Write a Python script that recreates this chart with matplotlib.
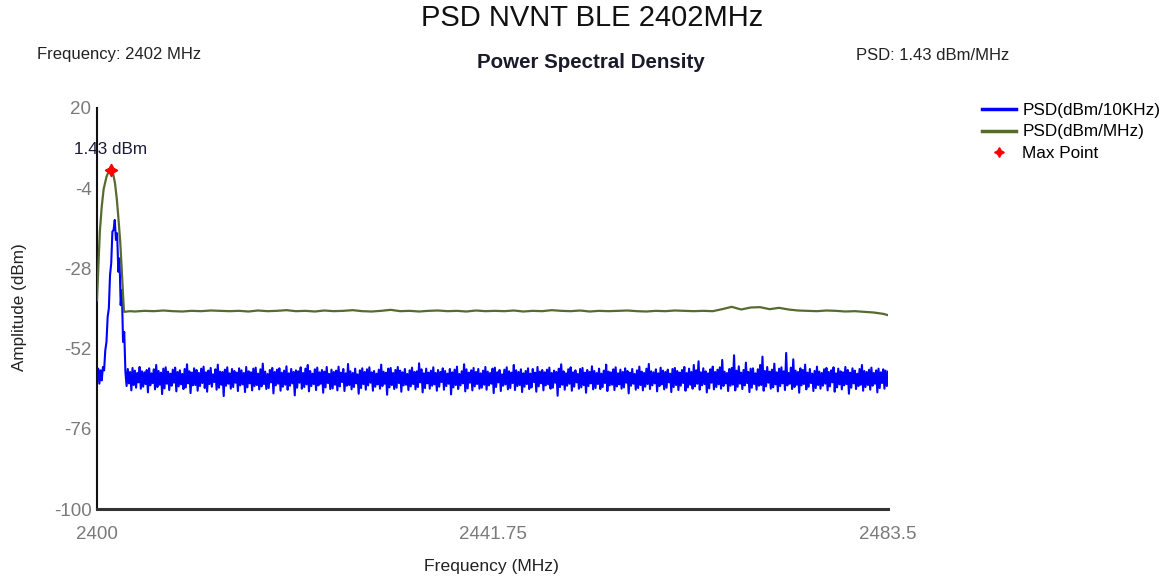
import numpy as np
import matplotlib
matplotlib.use("Agg")
import matplotlib.pyplot as plt
from matplotlib.lines import Line2D

# ---------------- data ----------------
x_ticks = [2400, 2441.75, 2483.5]
x_tick_labels = ["2400", "2441.75", "2483.5"]
y_ticks = [20, -4, -28, -52, -76, -100]
y_tick_labels = ["20", "-4", "-28", "-52", "-76", "-100"]

# PSD (dBm/10KHz) trace, one reading every 0.125 MHz from 2400 MHz
blue_start = 2400.0
blue_step = 0.125
psd_10khz_peak = [
    -61.0, -58.0, -62.5, -58.5, -61.5, -57.5, -58.5, -52.5,
    -50.0, -42.5, -40.0, -30.0, -26.5, -17.0, -16.5, -13.5,
    -19.5, -17.5, -29.0, -25.0, -39.0, -34.5, -50.0, -47.0, -59.0,
]
psd_10khz_floor = [
    -63.2, -58.1, -62.4, -59.0, -64.5, -57.8, -62.9, -58.6, -63.7, -59.3, -62.1, -57.5, -64.0, -58.8, -63.4, -59.1,
    -62.6, -58.4, -65.1, -57.9, -63.0, -59.4, -62.3, -58.2, -64.2, -56.9, -63.5, -58.7, -62.8, -59.2, -65.6, -58.0,
    -63.9, -57.6, -62.5, -58.9, -64.4, -59.5, -63.1, -58.3, -62.2, -57.7, -64.8, -59.0, -63.3, -58.5, -62.7, -59.6,
    -64.1, -58.1, -63.6, -56.7, -62.4, -58.8, -65.3, -59.2, -63.0, -57.9, -62.9, -58.4, -64.6, -59.3, -63.2, -58.0,
    -62.3, -57.4, -63.8, -59.1, -64.9, -58.6, -62.6, -57.8, -63.4, -59.7, -62.0, -58.2, -64.3, -56.8, -63.7, -58.9,
    -62.8, -59.0, -66.2, -58.3, -63.1, -57.6, -62.5, -59.4, -64.0, -58.1, -63.5, -58.7, -62.2, -59.2, -64.7, -57.9,
    -63.0, -58.5, -62.7, -59.3, -65.0, -57.5, -63.6, -58.8, -62.4, -59.1, -64.5, -58.0, -63.2, -57.7, -62.9, -59.5,
    -64.2, -58.2, -63.3, -56.5, -62.6, -58.9, -64.1, -59.6, -63.8, -58.4, -62.1, -57.8, -65.4, -59.0, -63.0, -58.3,
    -62.5, -57.9, -64.6, -59.2, -63.4, -58.6, -62.8, -57.3, -64.3, -59.4, -63.1, -58.1, -62.4, -59.0, -66.0, -58.5,
    -63.7, -58.8, -62.2, -57.6, -64.0, -59.3, -63.5, -58.0, -62.7, -56.9, -64.8, -58.7, -63.2, -59.5, -62.6, -58.2,
    -64.4, -57.7, -63.0, -59.1, -62.5, -58.4, -65.2, -58.9, -63.6, -57.5, -62.3, -59.6, -64.1, -58.3, -63.9, -59.0,
    -62.8, -58.6, -64.5, -57.4, -63.3, -59.2, -62.0, -58.1, -64.7, -59.4, -63.1, -56.6, -62.9, -58.8, -64.2, -59.3,
    -63.5, -58.0, -62.4, -59.7, -65.5, -58.5, -63.8, -57.9, -62.6, -59.0, -64.3, -58.2, -63.0, -57.6, -62.2, -59.1,
    -64.6, -58.7, -63.4, -59.5, -62.7, -58.3, -64.0, -56.8, -63.2, -58.9, -62.5, -59.2, -65.8, -58.0, -63.6, -57.8,
    -62.9, -59.3, -64.1, -58.4, -63.7, -57.5, -62.3, -58.6, -64.9, -59.1, -63.0, -58.1, -62.8, -59.6, -64.4, -58.5,
    -63.3, -57.7, -62.6, -59.0, -64.2, -58.8, -63.5, -56.4, -62.1, -58.2, -65.1, -59.4, -63.8, -58.0, -62.4, -59.2,
    -64.0, -58.6, -63.1, -57.6, -62.7, -59.3, -64.6, -58.4, -63.4, -59.0, -62.0, -57.9, -64.3, -58.7, -63.2, -59.5,
    -62.5, -58.1, -65.7, -59.1, -63.6, -58.3, -62.9, -57.4, -64.1, -59.6, -63.0, -58.8, -62.4, -56.7, -64.8, -58.2,
    -63.9, -59.2, -62.2, -58.5, -64.5, -57.8, -63.3, -59.0, -62.6, -58.1, -64.0, -59.4, -63.7, -58.6, -62.8, -57.5,
    -64.3, -58.9, -63.0, -59.3, -62.5, -58.0, -65.3, -57.7, -63.5, -59.1, -62.1, -58.4, -64.7, -59.7, -63.1, -58.3,
    -62.7, -57.6, -64.2, -58.8, -63.8, -59.2, -62.3, -56.9, -64.4, -58.5, -63.2, -59.0, -62.9, -58.2, -65.0, -59.4,
    -63.4, -58.7, -62.6, -57.9, -64.1, -59.5, -63.6, -58.1, -62.0, -59.2, -64.9, -57.5, -63.3, -58.9, -62.4, -58.4,
    -64.5, -59.1, -63.0, -58.3, -62.7, -57.7, -64.0, -59.3, -63.7, -58.6, -62.2, -59.0, -66.1, -58.0, -63.5, -56.7,
    -62.8, -58.8, -64.3, -59.4, -63.1, -58.2, -62.5, -57.6, -64.6, -59.1, -63.4, -58.5, -62.1, -59.6, -64.0, -58.1,
    -63.6, -57.8, -62.9, -59.2, -65.2, -58.4, -63.2, -59.0, -62.4, -57.3, -64.2, -58.7, -63.8, -59.3, -62.6, -58.0,
    -64.1, -59.5, -63.5, -58.6, -62.3, -56.8, -64.7, -58.9, -63.0, -59.1, -62.8, -58.2, -64.4, -57.6, -63.3, -59.4,
    -62.7, -58.3, -64.0, -59.0, -63.6, -57.9, -62.2, -58.7, -65.4, -59.2, -63.1, -58.1, -62.5, -59.6, -64.3, -58.5,
    -63.8, -57.4, -62.9, -58.9, -64.5, -59.3, -63.4, -58.0, -62.6, -56.6, -64.1, -58.8, -63.0, -59.1, -62.4, -58.2,
    -64.8, -59.4, -63.2, -57.7, -62.7, -58.6, -64.2, -59.0, -63.7, -58.3, -62.1, -59.5, -65.0, -58.1, -63.5, -57.8,
    -62.9, -58.7, -64.4, -59.2, -63.1, -58.4, -62.3, -57.5, -64.6, -59.3, -63.6, -58.0, -62.8, -59.0, -64.0, -56.9,
    -63.3, -58.5, -62.5, -55.8, -64.3, -59.1, -63.0, -57.9, -62.6, -58.8, -65.1, -59.4, -63.9, -58.2, -62.2, -57.4,
    -64.2, -59.0, -63.5, -58.3, -62.7, -57.6, -64.0, -55.4, -63.2, -58.9, -62.4, -59.3, -64.7, -58.1, -63.1, -57.8,
    -62.8, -54.0, -64.5, -58.6, -63.4, -57.3, -62.5, -59.2, -64.1, -58.4, -63.0, -56.2, -62.3, -59.0, -65.0, -58.0,
    -63.7, -57.9, -62.6, -59.4, -64.3, -58.2, -63.1, -56.9, -62.9, -54.4, -64.6, -58.7, -63.3, -57.5, -62.2, -58.9,
    -64.0, -58.3, -63.6, -56.5, -62.7, -59.1, -64.8, -58.0, -63.2, -57.6, -62.4, -58.8, -64.4, -53.3, -63.0, -59.3,
    -62.5, -57.7, -64.1, -55.2, -63.5, -58.6, -62.8, -59.0, -65.2, -57.9, -63.0, -58.4, -62.6, -56.8, -64.2, -59.2,
    -63.4, -58.1, -62.3, -59.5, -64.7, -58.7, -63.8, -57.4, -62.9, -58.9, -64.0, -59.3, -63.1, -58.2, -62.5, -57.8,
    -64.5, -59.0, -63.3, -58.5, -62.1, -57.6, -64.9, -59.4, -63.6, -58.0, -62.7, -58.8, -64.2, -59.1, -63.0, -57.5,
    -62.6, -58.4, -65.5, -59.2, -63.7, -57.9, -62.4, -58.6, -64.1, -59.5, -63.2, -58.1, -62.8, -56.9, -64.6, -58.7,
    -63.5, -59.0, -62.9, -58.3, -64.3, -57.7, -63.1, -59.3, -62.5, -58.5, -65.1, -58.0, -63.8, -59.1, -62.3, -58.2,
    -64.0, -58.6, -63.2, -58.9,
]

# PSD (dBm/MHz) trace
green_peak_freq = [2400.0, 2400.15, 2400.3, 2400.5, 2400.7, 2401.0, 2401.2, 2401.44,
                   2401.7, 2401.9, 2402.1, 2402.25, 2402.45, 2402.6, 2402.75, 2402.85]
green_peak_vals = [-37.5, -27.0, -17.0, -9.5, -4.3, -0.6, 0.8, 1.43,
                   0.3, -2.5, -7.5, -12.6, -20.0, -27.6, -36.0, -41.0]
green_base_freq = [2403.5] + list(range(2404, 2484)) + [2483.5]
green_base_vals = [
    -40.8,
    -40.9, -40.7, -40.8, -40.6, -40.8, -40.9, -40.7, -40.8, -40.6, -40.7,
    -40.8, -40.7, -40.9, -40.6, -40.8, -40.7, -40.5, -40.8, -40.7, -40.9,
    -40.6, -40.8, -40.7, -40.5, -40.8, -40.9, -40.7, -40.4, -40.8, -40.7,
    -40.9, -40.7, -40.6, -40.8, -40.7, -40.9, -40.6, -40.8, -40.7, -40.8,
    -40.6, -40.9, -40.7, -40.8, -40.5, -40.7, -40.8, -40.6, -40.9, -40.7,
    -40.8, -40.7, -40.6, -40.8, -40.9, -40.7, -40.8, -40.6, -40.7, -40.8,
    -40.7, -40.8, -40.2, -39.5, -40.3, -39.7, -39.6, -40.2, -39.8, -40.3,
    -40.6, -40.7, -40.8, -40.6, -40.7, -40.9, -40.8, -41.0, -41.2, -41.6,
    -42.0,
]

max_freq = 2401.44
max_val = 1.43

FONT = "Liberation Sans"

psd_10khz = psd_10khz_peak + psd_10khz_floor
blue_freq = blue_start + blue_step * np.arange(len(psd_10khz))
green_freq = green_peak_freq + green_base_freq
green_vals = green_peak_vals + green_base_vals

fig = plt.figure(figsize=(11.69, 5.78), dpi=100)
ax = fig.add_axes([97 / 1169, 1 - 509 / 578, (888 - 97) / 1169, (509 - 108) / 578])

ax.plot(blue_freq, psd_10khz, color="#0000ff", lw=1.5, zorder=2)
ax.plot(green_freq, green_vals, color="#556b2f", lw=1.6, zorder=3)
ax.plot([max_freq], [max_val], marker=(4, 1, 0), color="#ff0000", ms=9, ls="none", zorder=4)
ax.annotate("1.43 dBm", (max_freq, max_val), xytext=(0, 15), textcoords="offset points",
            ha="center", va="center", fontsize=12.3, family=FONT, color="#1a1a3a")

ax.set_xlim(2400, 2483.5)
ax.set_ylim(-100, 20)
ax.set_xticks(x_ticks)
ax.set_xticklabels(x_tick_labels)
ax.set_yticks(y_ticks)
ax.set_yticklabels(y_tick_labels)
ax.tick_params(length=0, labelsize=13.5, labelcolor="#7a7a7a")
ax.tick_params(axis="y", pad=4)
ax.tick_params(axis="x", pad=12)
for lab in ax.get_xticklabels() + ax.get_yticklabels():
    lab.set_family(FONT)
for s in ["top", "right"]:
    ax.spines[s].set_visible(False)
ax.spines["left"].set_linewidth(1.5)
ax.spines["bottom"].set_linewidth(2.2)
ax.spines["bottom"].set_color("#333333")
ax.spines["left"].set_color("#111111")

fig.text(592 / 1169, 1 - 18 / 578, "PSD NVNT BLE 2402MHz", ha="center", va="center",
         fontsize=21, family=FONT, color="#111111")
fig.text(37 / 1169, 1 - 55 / 578, "Frequency: 2402 MHz", ha="left", va="center",
         fontsize=12, family=FONT, color="#222222")
fig.text(591 / 1169, 1 - 63 / 578, "Power Spectral Density", ha="center", va="center",
         fontsize=14.8, family=FONT, weight="bold", color="#1a1a2a")
fig.text(856 / 1169, 1 - 55 / 578, "PSD: 1.43 dBm/MHz", ha="left", va="center",
         fontsize=12, family=FONT, color="#222222")
fig.text(20 / 1169, 1 - 307 / 578, "Amplitude (dBm)", ha="center", va="center", rotation=90,
         fontsize=12.3, family=FONT, color="#222222")
fig.text(492 / 1169, 1 - 566 / 578, "Frequency (MHz)", ha="center", va="center",
         fontsize=12.6, family=FONT, color="#222222")

handles = [
    Line2D([], [], color="#0000ff", lw=2.5),
    Line2D([], [], color="#556b2f", lw=2.5),
    Line2D([], [], color="#ff0000", marker=(4, 1, 0), ls="none", ms=7),
]
labels = ["PSD(dBm/10KHz)", "PSD(dBm/MHz)", "Max Point"]
fig.legend(handles, labels, loc="upper left", bbox_to_anchor=(982 / 1169, 1 - 103 / 578),
           frameon=False, prop={"family": FONT, "size": 12.3}, handlelength=2.0,
           handletextpad=0.35, labelspacing=0.38, borderaxespad=0, borderpad=0)

fig.savefig("out.png", dpi=100, facecolor="white")
